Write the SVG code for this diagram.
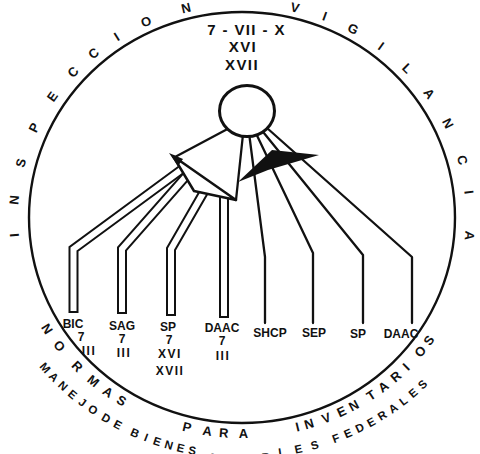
<svg xmlns="http://www.w3.org/2000/svg" width="480" height="454" viewBox="0 0 480 454">
<style>
.ln{fill:none;stroke:#111;stroke-width:2.3;stroke-linecap:round;stroke-linejoin:round}
.to{fill:none;stroke:#111;stroke-width:10;stroke-linejoin:miter}
.ti{fill:none;stroke:#fff;stroke-width:6;stroke-linejoin:miter}
.a1{font-family:"Liberation Sans",Arial,sans-serif;font-weight:700;font-size:13px;fill:#111;text-anchor:middle}
.a2{font-family:"Liberation Sans",Arial,sans-serif;font-weight:700;font-size:11.5px;fill:#111;text-anchor:middle}
.lb{font-family:"Liberation Sans",Arial,sans-serif;font-weight:700;font-size:12px;fill:#111;text-anchor:middle}
.tp{font-family:"Liberation Sans",Arial,sans-serif;font-weight:700;font-size:15px;fill:#111;text-anchor:middle;letter-spacing:1.4px}
</style>
<defs>
<path id="pTop" d="M31.5 289.2 A224 211 0 1 1 452.5 289.2"/>
<path id="pBot" d="M24 141.4 A232 221 0 1 0 460 141.4"/>
<path id="pOut" d="M-0.4 134.2 A258 242 0 1 0 484.4 134.2"/>
</defs>
<rect width="480" height="454" fill="#fff"/>
<g id="frame">
<ellipse cx="242" cy="217.5" rx="213" ry="205.5" fill="none" stroke="#111" stroke-width="2.4"/>
</g>
<g id="arc-inspeccion">
<text class="a1"><textPath href="#pTop" startOffset="56.2">I</textPath></text>
<text class="a1"><textPath href="#pTop" startOffset="90.7">N</textPath></text>
<text class="a1"><textPath href="#pTop" startOffset="127.3">S</textPath></text>
<text class="a1"><textPath href="#pTop" startOffset="164.4">P</textPath></text>
<text class="a1"><textPath href="#pTop" startOffset="199.5">E</textPath></text>
<text class="a1"><textPath href="#pTop" startOffset="230.8">C</textPath></text>
<text class="a1"><textPath href="#pTop" startOffset="258.1">C</textPath></text>
<text class="a1"><textPath href="#pTop" startOffset="286.1">I</textPath></text>
<text class="a1"><textPath href="#pTop" startOffset="318.4">O</textPath></text>
<text class="a1"><textPath href="#pTop" startOffset="359.7">N</textPath></text>
</g>
<g id="arc-vigilancia">
<text class="a1"><textPath href="#pTop" startOffset="467.8">V</textPath></text>
<text class="a1"><textPath href="#pTop" startOffset="498.1">I</textPath></text>
<text class="a1"><textPath href="#pTop" startOffset="528.7">G</textPath></text>
<text class="a1"><textPath href="#pTop" startOffset="561">I</textPath></text>
<text class="a1"><textPath href="#pTop" startOffset="594.5">L</textPath></text>
<text class="a1"><textPath href="#pTop" startOffset="627.3">A</textPath></text>
<text class="a1"><textPath href="#pTop" startOffset="661.7">N</textPath></text>
<text class="a1"><textPath href="#pTop" startOffset="700.3">C</textPath></text>
<text class="a1"><textPath href="#pTop" startOffset="732.5">I</textPath></text>
<text class="a1"><textPath href="#pTop" startOffset="774.8">A</textPath></text>
</g>
<g id="arc-normas">
<text class="a1"><textPath href="#pBot" startOffset="197.8">N</textPath></text>
<text class="a1"><textPath href="#pBot" startOffset="219.3">O</textPath></text>
<text class="a1"><textPath href="#pBot" startOffset="246.9">R</textPath></text>
<text class="a1"><textPath href="#pBot" startOffset="269">M</textPath></text>
<text class="a1"><textPath href="#pBot" startOffset="287.7">A</textPath></text>
<text class="a1"><textPath href="#pBot" startOffset="304.1">S</textPath></text>
<text class="a1"><textPath href="#pBot" startOffset="376.4">P</textPath></text>
<text class="a1"><textPath href="#pBot" startOffset="397.4">A</textPath></text>
<text class="a1"><textPath href="#pBot" startOffset="414.1">R</textPath></text>
<text class="a1"><textPath href="#pBot" startOffset="434.3">A</textPath></text>
<text class="a1"><textPath href="#pBot" startOffset="490.1">I</textPath></text>
<text class="a1"><textPath href="#pBot" startOffset="502.2">N</textPath></text>
<text class="a1"><textPath href="#pBot" startOffset="520.7">V</textPath></text>
<text class="a1"><textPath href="#pBot" startOffset="537.6">E</textPath></text>
<text class="a1"><textPath href="#pBot" startOffset="551.6">N</textPath></text>
<text class="a1"><textPath href="#pBot" startOffset="572">T</textPath></text>
<text class="a1"><textPath href="#pBot" startOffset="587.1">A</textPath></text>
<text class="a1"><textPath href="#pBot" startOffset="603.8">R</textPath></text>
<text class="a1"><textPath href="#pBot" startOffset="618.1">I</textPath></text>
<text class="a1"><textPath href="#pBot" startOffset="639.3">O</textPath></text>
<text class="a1"><textPath href="#pBot" startOffset="653.8">S</textPath></text>
</g>
<g id="arc-manejo">
<text class="a2"><textPath href="#pOut" startOffset="252.2">M</textPath></text>
<text class="a2"><textPath href="#pOut" startOffset="265">A</textPath></text>
<text class="a2"><textPath href="#pOut" startOffset="278">N</textPath></text>
<text class="a2"><textPath href="#pOut" startOffset="291">E</textPath></text>
<text class="a2"><textPath href="#pOut" startOffset="303.9">J</textPath></text>
<text class="a2"><textPath href="#pOut" startOffset="316.9">O</textPath></text>
<text class="a2"><textPath href="#pOut" startOffset="332.9">D</textPath></text>
<text class="a2"><textPath href="#pOut" startOffset="346.2">E</textPath></text>
<text class="a2"><textPath href="#pOut" startOffset="365.7">B</textPath></text>
<text class="a2"><textPath href="#pOut" startOffset="377.8">I</textPath></text>
<text class="a2"><textPath href="#pOut" startOffset="389.9">E</textPath></text>
<text class="a2"><textPath href="#pOut" startOffset="402.1">N</textPath></text>
<text class="a2"><textPath href="#pOut" startOffset="414.4">E</textPath></text>
<text class="a2"><textPath href="#pOut" startOffset="426.5">S</textPath></text>
<text class="a2" dy="4"><textPath href="#pOut" startOffset="450.4">M</textPath></text>
<text class="a2" dy="4"><textPath href="#pOut" startOffset="467.3">U</textPath></text>
<text class="a2" dy="4"><textPath href="#pOut" startOffset="484.2">E</textPath></text>
<text class="a2" dy="3"><textPath href="#pOut" startOffset="501.3">B</textPath></text>
<text class="a2"><textPath href="#pOut" startOffset="518.2">L</textPath></text>
<text class="a2"><textPath href="#pOut" startOffset="535.1">E</textPath></text>
<text class="a2"><textPath href="#pOut" startOffset="552">S</textPath></text>
<text class="a2"><textPath href="#pOut" startOffset="574.8">F</textPath></text>
<text class="a2"><textPath href="#pOut" startOffset="588">E</textPath></text>
<text class="a2"><textPath href="#pOut" startOffset="601.1">D</textPath></text>
<text class="a2"><textPath href="#pOut" startOffset="614.1">E</textPath></text>
<text class="a2"><textPath href="#pOut" startOffset="627.2">R</textPath></text>
<text class="a2"><textPath href="#pOut" startOffset="640.3">A</textPath></text>
<text class="a2"><textPath href="#pOut" startOffset="653.2">L</textPath></text>
<text class="a2"><textPath href="#pOut" startOffset="666.1">E</textPath></text>
<text class="a2"><textPath href="#pOut" startOffset="679">S</textPath></text>
</g>
<g id="connectors">
<path class="ln" d="M235 125 L175 157"/>
<path class="ln" d="M244 125 L236 200"/>
<path class="ln" d="M248 125 L265 257 V323"/>
<path class="ln" d="M252 125 L313 253 V323"/>
<path class="ln" d="M255 122 L363 255 V323"/>
<path class="ln" d="M258 120 L412 257 V323"/>
<path class="to" d="M73.5 313 V249 L185 167"/>
<path class="ti" d="M73.5 311 V249 L185 167"/>
<path class="to" d="M122 314 V249 L188 174"/>
<path class="ti" d="M122 312 V249 L188 174"/>
<path class="to" d="M171 316 V249 L205 190"/>
<path class="ti" d="M171 314 V249 L205 190"/>
<path class="to" d="M224 318 V194"/>
<path class="ti" d="M224 316 V194"/>
</g>
<g id="junction-left">
<polygon points="173,156 194,191 236,200" fill="#fff" stroke="#111" stroke-width="2.5" stroke-linejoin="round"/>
<polygon points="169,153 183,159 178,166" fill="#111"/>
</g>
<g id="junction-right">
<polygon points="238,182 272,150 319,155 268,170" fill="#111"/>
</g>
<g id="hub">
<ellipse cx="247" cy="111" rx="27.5" ry="25.5" fill="#fff" stroke="#111" stroke-width="3"/>
<text class="tp" x="246.5" y="35">7 - VII - X</text>
<text class="tp" x="243" y="52">XVI</text>
<text class="tp" x="242" y="70">XVII</text>
</g>
<g id="node-bic"><text class="lb" x="73" y="328">BIC</text><text class="lb" x="81" y="341">7</text><text class="lb" x="89" y="355" letter-spacing="1.5">III</text></g>
<g id="node-sag"><text class="lb" x="122" y="330">SAG</text><text class="lb" x="122" y="343">7</text><text class="lb" x="124" y="357" letter-spacing="1.5">III</text></g>
<g id="node-sp1"><text class="lb" x="168" y="331">SP</text><text class="lb" x="169" y="344">7</text><text class="lb" x="170" y="358" letter-spacing="1.5">XVI</text><text class="lb" x="170" y="375" letter-spacing="1.5">XVII</text></g>
<g id="node-daac1"><text class="lb" x="222" y="332">DAAC</text><text class="lb" x="222" y="345">7</text><text class="lb" x="223" y="360" letter-spacing="1.5">III</text></g>
<g id="node-shcp"><text class="lb" x="270" y="337">SHCP</text></g>
<g id="node-sep"><text class="lb" x="314" y="337">SEP</text></g>
<g id="node-sp2"><text class="lb" x="358" y="338">SP</text></g>
<g id="node-daac2"><text class="lb" x="401" y="338">DAAC</text></g>
</svg>
